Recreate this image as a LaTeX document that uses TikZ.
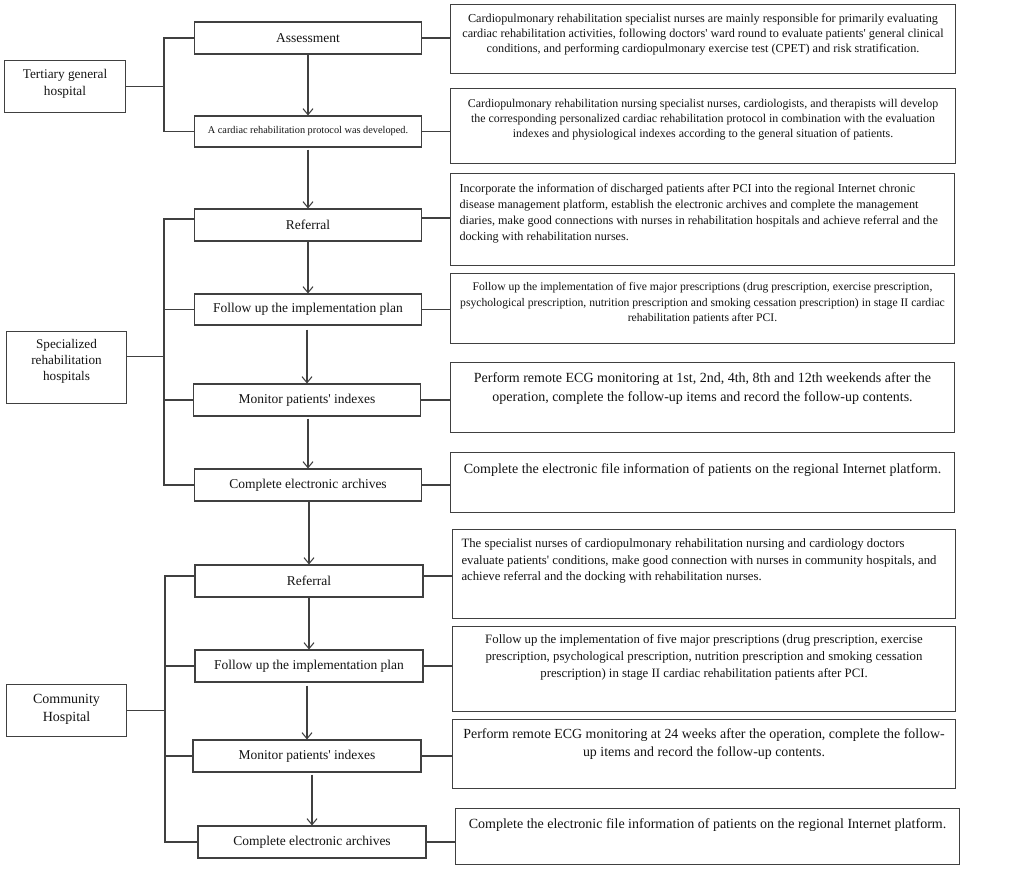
\documentclass[tikz,border=0pt]{standalone}
\usepackage{fontspec}
\setmainfont{Liberation Serif}[Ligatures=TeXOff]
\usetikzlibrary{arrows.meta}
\definecolor{lc}{HTML}{404040}
\definecolor{tc}{HTML}{141414}
\newcommand\fs[2]{\fontsize{#1}{#2}\selectfont}
% width, height, alignment, first baseline, text
\newcommand\dtx[5]{\parbox[c][#2][t]{#1}{#3\rule{0pt}{#4}#5}}
\newcommand\lft{\raggedright\leftskip=9pt\relax}
\begin{document}
\begin{tikzpicture}[x=1pt,y=-1pt,
  stepbox/.style={draw=lc, line width=1.05pt, inner sep=0pt, minimum width=227pt, minimum height=32pt, font=\fs{13.5}{16}, text=tc},
  grp/.style={draw=lc, line width=1.05pt, inner sep=0pt, anchor=north west, text=tc},
  desc/.style={draw=lc, line width=1.05pt, inner sep=0pt, anchor=north west, text=tc},
  ln/.style={lc, line width=1.05pt},
  arr/.style={lc, line width=1.05pt, -{Straight Barb[length=6pt,width=10pt]}}]
\useasboundingbox[fill=white] (0,0) rectangle (1021,869);

% group boxes
\node[grp] (tert) at (4,60) {\dtx{121pt}{52pt}{\centering\fs{13.3}{17}}{18pt}{Tertiary general\\hospital}};
\node[grp] (spec) at (6,331) {\dtx{120pt}{72pt}{\centering\fs{13.2}{16}}{17pt}{Specialized\\rehabilitation\\hospitals}};
\node[grp] (comm) at (6,684) {\dtx{120pt}{52pt}{\centering\fs{14}{18}}{19pt}{Community\\Hospital}};

% step boxes
\node[stepbox] (assess) at (308,38) {Assessment};
\node[stepbox, minimum height=31pt, font=\fs{10.3}{12}] (proto) at (308,131.5) {A cardiac rehabilitation protocol was developed.};
\node[stepbox] (ref1) at (308,225) {Referral};
\node[stepbox, minimum height=31pt] (fol1) at (308,309.5) {Follow up the implementation plan};
\node[stepbox] (mon1) at (307,400) {Monitor patients' indexes};
\node[stepbox] (comp1) at (308,485) {Complete electronic archives};
\node[stepbox, minimum width=228pt] (ref2) at (309,581) {Referral};
\node[stepbox, minimum width=228pt] (fol2) at (309,666) {Follow up the implementation plan};
\node[stepbox, minimum width=228pt] (mon2) at (307,756) {Monitor patients' indexes};
\node[stepbox, minimum width=228pt] (comp2) at (312,842) {Complete electronic archives};

% description boxes
\node[desc] (d1) at (450,4) {\dtx{505pt}{69pt}{\centering\fs{12.2}{15}}{18pt}{Cardiopulmonary rehabilitation specialist nurses are mainly responsible for primarily evaluating\\cardiac rehabilitation activities, following doctors' ward round to evaluate patients' general clinical\\conditions, and performing cardiopulmonary exercise test (CPET) and risk stratification.}};
\node[desc] (d2) at (450,88) {\dtx{505pt}{75pt}{\centering\fs{11.9}{15}}{19pt}{Cardiopulmonary rehabilitation nursing specialist nurses, cardiologists, and therapists will develop\\the corresponding personalized cardiac rehabilitation protocol in combination with the evaluation\\indexes and physiological indexes according to the general situation of patients.}};
\node[desc] (d3) at (450,173) {\dtx{504pt}{92pt}{\lft\fs{12.2}{16}}{19pt}{Incorporate the information of discharged patients after PCI into the regional Internet chronic\\disease management platform, establish the electronic archives and complete the management\\diaries, make good connections with nurses in rehabilitation hospitals and achieve referral and the\\docking with rehabilitation nurses.}};
\node[desc] (d4) at (450,273) {\dtx{504pt}{70pt}{\centering\fs{11.65}{15.5}}{17pt}{Follow up the implementation of five major prescriptions (drug prescription, exercise prescription,\\psychological prescription, nutrition prescription and smoking cessation prescription) in stage II cardiac\\rehabilitation patients after PCI.}};
\node[desc] (d5) at (450,362) {\dtx{504pt}{70pt}{\centering\fs{14}{19}}{20pt}{Perform remote ECG monitoring at 1st, 2nd, 4th, 8th and 12th weekends after the\\operation, complete the follow-up items and record the follow-up contents.}};
\node[desc] (d6) at (450,452) {\dtx{504pt}{60pt}{\centering\fs{14}{18}}{21pt}{Complete the electronic file information of patients on the regional Internet platform.}};
\node[desc] (d7) at (452,529) {\dtx{503pt}{89pt}{\lft\fs{12.75}{16.5}}{18pt}{The specialist nurses of cardiopulmonary rehabilitation nursing and cardiology doctors\\evaluate patients' conditions, make good connection with nurses in community hospitals, and\\achieve referral and the docking with rehabilitation nurses.}};
\node[desc] (d8) at (452,626) {\dtx{503pt}{85pt}{\centering\fs{12.8}{17}}{17pt}{Follow up the implementation of five major prescriptions (drug prescription, exercise\\prescription, psychological prescription, nutrition prescription and smoking cessation\\prescription) in stage II cardiac rehabilitation patients after PCI.}};
\node[desc] (d9) at (452,719) {\dtx{503pt}{69pt}{\centering\fs{13.9}{18}}{19pt}{Perform remote ECG monitoring at 24 weeks after the operation, complete the follow-\\up items and record the follow-up contents.}};
\node[desc] (d10) at (455,808) {\dtx{504pt}{56pt}{\centering\fs{14}{18}}{20pt}{Complete the electronic file information of patients on the regional Internet platform.}};

% brackets
\coordinate (bx1) at (164,0);
\coordinate (bx3) at (165,0);
\draw[ln] (assess.west) -- (assess.west -| bx1) -- (proto.west -| bx1) -- (proto.west);
\draw[ln] (tert.east) -- (tert.east -| bx1);
\draw[ln] ([yshift=6pt]ref1.west) -- ([yshift=6pt]ref1.west -| bx1) -- (comp1.west -| bx1) -- (comp1.west);
\draw[ln] (fol1.west) -- (fol1.west -| bx1);
\draw[ln] (mon1.west) -- (mon1.west -| bx1);
\draw[ln] ([yshift=11pt]spec.east) -- ([yshift=11pt]spec.east -| bx1);
\draw[ln] ([yshift=5pt]ref2.west) -- ([yshift=5pt]ref2.west -| bx3) -- (comp2.west -| bx3) -- (comp2.west);
\draw[ln] (fol2.west) -- (fol2.west -| bx3);
\draw[ln] (mon2.west) -- (mon2.west -| bx3);
\draw[ln] (comm.east) -- (comm.east -| bx3);

% right connectors
\draw[ln] (assess.east) -- (assess.east -| d1.west);
\draw[ln] (proto.east) -- (proto.east -| d2.west);
\draw[ln] ([yshift=7pt]ref1.east) -- ([yshift=7pt]ref1.east -| d3.west);
\draw[ln] (fol1.east) -- (fol1.east -| d4.west);
\draw[ln] (mon1.east) -- (mon1.east -| d5.west);
\draw[ln] (comp1.east) -- (comp1.east -| d6.west);
\draw[ln] ([yshift=5pt]ref2.east) -- ([yshift=5pt]ref2.east -| d7.west);
\draw[ln] (fol2.east) -- (fol2.east -| d8.west);
\draw[ln] (mon2.east) -- (mon2.east -| d9.west);
\draw[ln] (comp2.east) -- (comp2.east -| d10.west);

% arrows
\draw[arr] (proto.north |- assess.south) -- (proto.north);
\draw[arr, shorten <=2pt] (ref1.north |- proto.south) -- (ref1.north);
\draw[arr] (fol1.north |- ref1.south) -- (fol1.north);
\draw[arr, shorten <=4pt] (mon1.north |- fol1.south) -- (mon1.north);
\draw[arr, shorten <=2pt] (comp1.north |- mon1.south) -- (comp1.north);
\draw[arr] (ref2.north |- comp1.south) -- (ref2.north);
\draw[arr] (fol2.north |- ref2.south) -- (fol2.north);
\draw[arr, shorten <=3pt] (mon2.north |- fol2.south) -- (mon2.north);
\draw[arr, shorten <=2pt] (comp2.north |- mon2.south) -- (comp2.north);
\end{tikzpicture}
\end{document}
